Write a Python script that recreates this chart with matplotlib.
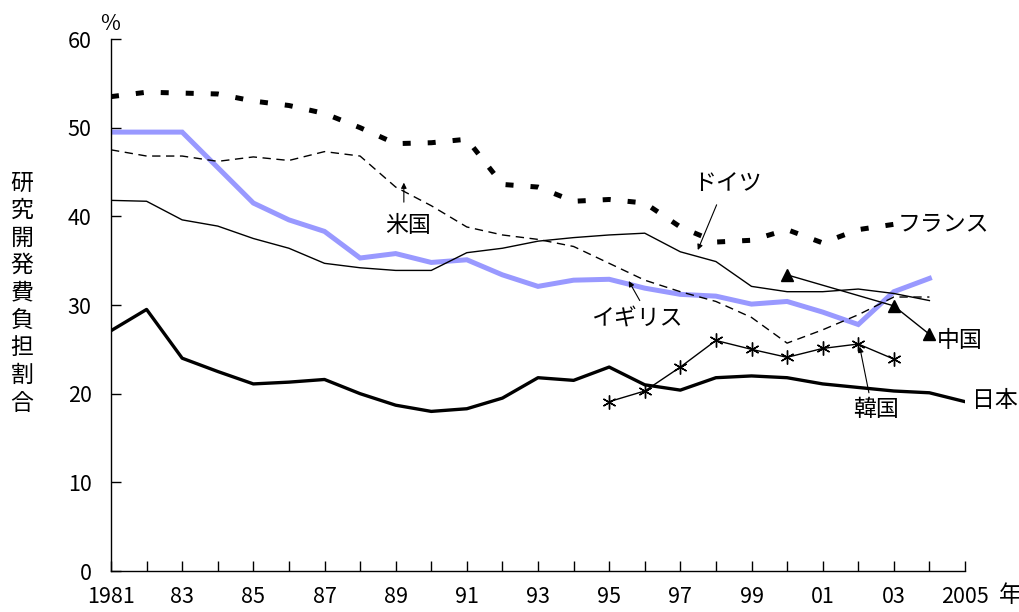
import matplotlib
matplotlib.use("Agg")
import matplotlib.pyplot as plt
import numpy as np

plt.rcParams['font.family'] = ['Noto Sans CJK JP', 'DejaVu Sans']

years = list(range(1981, 2006))

france_years = list(range(1981, 2004))
france = [53.5, 54.0, 53.9, 53.8, 53.0, 52.5, 51.6, 50.0, 48.2, 48.3, 48.7, 43.6,
          43.3, 41.7, 41.9, 41.5, 38.8, 37.1, 37.3, 38.5, 37.0, 38.5, 39.1]

uk_years = list(range(1981, 2005))
uk = [49.5, 49.5, 49.5, 45.5, 41.5, 39.6, 38.3, 35.3, 35.8, 34.8, 35.1, 33.4,
      32.1, 32.8, 32.9, 31.9, 31.2, 31.0, 30.1, 30.4, 29.2, 27.8, 31.5, 33.0]

us_years = list(range(1981, 2005))
us = [47.5, 46.8, 46.8, 46.2, 46.7, 46.3, 47.3, 46.8, 43.3, 41.2, 38.8, 37.9,
      37.4, 36.6, 34.7, 32.8, 31.5, 30.4, 28.6, 25.7, 27.2, 28.9, 30.9, 30.9]

germany_years = list(range(1981, 2005))
germany = [41.8, 41.7, 39.6, 38.9, 37.5, 36.4, 34.7, 34.2, 33.9, 33.9, 35.9, 36.4,
           37.2, 37.6, 37.9, 38.1, 36.0, 34.9, 32.1, 31.5, 31.5, 31.8, 31.3, 30.5]

japan_years = list(range(1981, 2006))
japan = [27.1, 29.5, 24.0, 22.5, 21.1, 21.3, 21.6, 20.0, 18.7, 18.0, 18.3, 19.5,
         21.8, 21.5, 23.0, 21.0, 20.4, 21.8, 22.0, 21.8, 21.1, 20.7, 20.3, 20.1, 19.1]

korea_years = list(range(1995, 2004))
korea = [19.1, 20.3, 23.0, 26.0, 25.0, 24.1, 25.1, 25.6, 23.9]

china_years = [2000, 2003, 2004]
china = [33.4, 29.9, 26.7]

xtick_years = list(range(1981, 2006, 2))
xtick_labels = ['1981', '83', '85', '87', '89', '91', '93', '95', '97', '99', '01', '03', '2005']
yticks = [0, 10, 20, 30, 40, 50, 60]

W, H = 1020, 612
fig = plt.figure(figsize=(W / 100, H / 100), dpi=100)
ax = fig.add_axes([111 / W, 1 - 571 / H, (965 - 111) / W, (571 - 39) / H])

fs = 15.5
lfs = 16.5

l, = ax.plot(france_years, france, color='black', lw=3.6, solid_capstyle='butt')
l.set_dashes((1.6, 3.4))
l.set_dash_capstyle('butt')
ax.plot(uk_years, uk, color='#9999ff', lw=3.6, solid_joinstyle='miter')
l2, = ax.plot(us_years, us, color='black', lw=1.0)
l2.set_dashes((6, 4))
ax.plot(germany_years, germany, color='black', lw=1.0)
ax.plot(japan_years, japan, color='black', lw=2.4)
ax.plot(korea_years, korea, color='black', lw=1.0, marker=(6, 2, 0), ms=10, mew=1.0)
ax.plot(china_years, china, color='black', lw=1.0, marker='^', ms=9)

ax.set_xlim(1981, 2005)
ax.set_ylim(0, 60)
ax.spines['top'].set_visible(False)
ax.spines['right'].set_visible(False)
for s in ['left', 'bottom']:
    ax.spines[s].set_linewidth(1.0)

ax.set_xticks(xtick_years)
ax.set_xticklabels(xtick_labels)
ax.set_xticks(years, minor=True)
ax.set_yticks(yticks)
ax.tick_params(axis='x', which='both', direction='in', length=7, width=1, labelsize=fs, pad=11)
ax.tick_params(axis='y', which='both', direction='in', length=7, width=1, labelsize=fs, pad=14)

arrowprops = dict(arrowstyle='-|>', color='black', lw=0.8, mutation_scale=8, shrinkA=0, shrinkB=0)

ax.text(1989.34, 39.0, '米国', fontsize=lfs, ha='center', va='center')
ax.annotate('', xy=(1989.23, 43.8), xytext=(1989.23, 41.6), arrowprops=arrowprops)

ax.text(1998.33, 43.7, 'ドイツ', fontsize=lfs, ha='center', va='center')
ax.annotate('', xy=(1997.49, 36.2), xytext=(1998.02, 41.3), arrowprops=arrowprops)

ax.text(1995.78, 28.5, 'イギリス', fontsize=lfs, ha='center', va='center')
ax.annotate('', xy=(1995.55, 32.7), xytext=(1995.86, 30.5), arrowprops=arrowprops)

ax.text(2003.1, 39.2, 'フランス', fontsize=lfs, ha='left', va='center', clip_on=False)

ax.text(2004.2, 26.0, '中国', fontsize=lfs, ha='left', va='center', clip_on=False)

ax.text(2002.5, 18.2, '韓国', fontsize=lfs, ha='center', va='center')
ax.annotate('', xy=(2002.04, 25.3), xytext=(2002.3, 20.1), arrowprops=arrowprops)

ax.text(2005.2, 19.2, '日本', fontsize=lfs, ha='left', va='center', clip_on=False)

fig.text(110 / W, 1 - 24 / H, '%', fontsize=fs, ha='center', va='center')
fig.text(1010 / W, 1 - 596 / H, '年', fontsize=lfs, ha='center', va='center')

ylabel_chars = list('研究開発費負担割合')
for i, ch in enumerate(ylabel_chars):
    fig.text(22 / W, 1 - (183 + i * 27.5) / H, ch, fontsize=lfs, ha='center', va='center')

fig.savefig('out.png', dpi=100)
